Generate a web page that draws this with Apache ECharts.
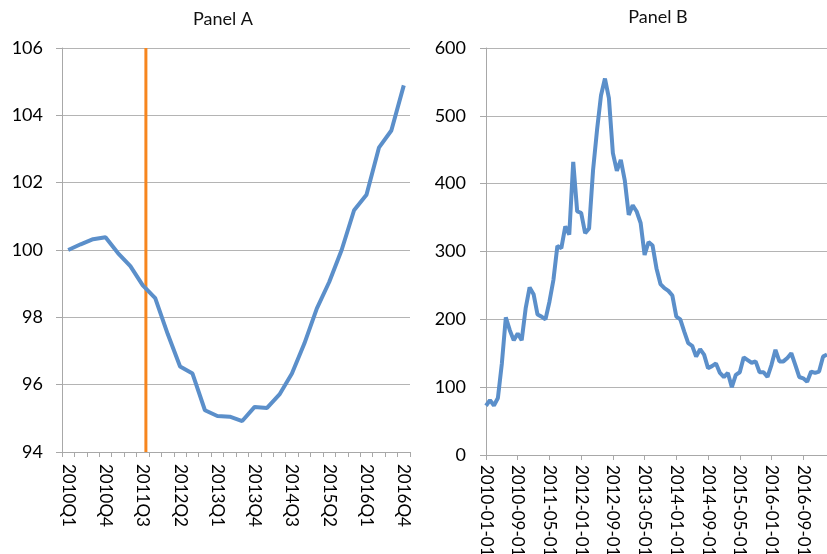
<!DOCTYPE html>
<html>
<head>
<meta charset="utf-8">
<script src="https://cdn.jsdelivr.net/npm/echarts@6/dist/echarts.min.js"></script>
<style>
html,body{margin:0;padding:0;background:#fff;}
#c{width:827px;height:554px;}
</style>
</head>
<body>
<div id="c"></div>
<script>
// ---- Panel A data (quarterly index) ----
var quartersA = ['2010Q1','2010Q2','2010Q3','2010Q4','2011Q1','2011Q2','2011Q3','2011Q4',
  '2012Q1','2012Q2','2012Q3','2012Q4','2013Q1','2013Q2','2013Q3','2013Q4',
  '2014Q1','2014Q2','2014Q3','2014Q4','2015Q1','2015Q2','2015Q3','2015Q4',
  '2016Q1','2016Q2','2016Q3','2016Q4'];
var valuesA = [100.0,100.17,100.32,100.38,99.91,99.52,98.95,98.57,
  97.51,96.54,96.33,95.24,95.07,95.05,94.92,95.34,
  95.31,95.71,96.33,97.22,98.26,99.05,100.0,101.18,
  101.64,103.04,103.55,104.89];
// position of the vertical marker, in category units from the axis start
var markerA = [6.75];
var yTicksA = {min:94, max:106, step:2};

// ---- Panel B data (monthly) ----
var startYearB = 2010, startMonthB = 1;
var valuesB = [72.6,81,73,84,135,203,184,169,179,169,
  216,247,237,207,204,200,226,258,308,305,
  337,325,432,359,357,327,334,420,479,530,
  555,526,445,419,435,405,354,368,359,342,
  295,314,309,275,252,246,242,235,204,200,
  182,165,161,145,156,148,128,131,135,121,
  115,121,100,118,122,144,140,136,138,122,
  122,115,133,155,138,138,143,150,133,115,
  113,108,123,121,123,145,148];
var monthsB = [];
for (var i = 0; i < valuesB.length; i++) {
  var m = startMonthB - 1 + i;
  var y = startYearB + Math.floor(m / 12);
  var mm = (m % 12) + 1;
  monthsB.push(y + '-' + (mm < 10 ? '0' + mm : mm) + '-01');
}
var yTicksB = {min:0, max:600, step:100};

var FONT = 'Lato';
var BLUE = '#5B8FCA';
var GRID = '#B4B4B4';
var AXIS = '#A8A8A8';

var chart = echarts.init(document.getElementById('c'), null, {renderer:'canvas'});
chart.setOption({
  animation:false,
  backgroundColor:'#ffffff',
  title:[
    {text:'Panel A', left:218, top:5, textAlign:'center',
     textStyle:{fontFamily:FONT, fontSize:18, fontWeight:'normal', color:'#111'}},
    {text:'Panel B', left:653, top:3, textAlign:'center',
     textStyle:{fontFamily:FONT, fontSize:18, fontWeight:'normal', color:'#111'}}
  ],
  grid:[
    {left:62, right:417, top:48, bottom:102, containLabel:false, outerBoundsMode:'none'},
    {left:486, right:0, top:48, bottom:99, containLabel:false, outerBoundsMode:'none'}
  ],
  xAxis:[
    {gridIndex:0, type:'category', data:quartersA, boundaryGap:true,
     axisLine:{lineStyle:{color:AXIS, width:1}},
     axisTick:{show:true, interval:0, length:5, lineStyle:{color:AXIS}},
     axisLabel:{interval:2, rotate:-90, margin:12, color:'#000', fontFamily:FONT, fontSize:17},
     splitLine:{show:false}},
    {gridIndex:0, type:'value', min:0, max:quartersA.length, show:false},
    {gridIndex:1, type:'category', data:monthsB, boundaryGap:false,
     axisLine:{lineStyle:{color:AXIS, width:1}},
     axisTick:{show:true, interval:7, length:5, lineStyle:{color:AXIS}},
     axisLabel:{interval:7, rotate:-90, margin:10, color:'#000', fontFamily:FONT, fontSize:17},
     splitLine:{show:false}}
  ],
  yAxis:[
    {gridIndex:0, type:'value', min:yTicksA.min, max:yTicksA.max, interval:yTicksA.step,
     axisLine:{show:true, lineStyle:{color:AXIS}},
     axisTick:{show:true, length:6, lineStyle:{color:AXIS}},
     axisLabel:{margin:19, color:'#000', fontFamily:FONT, fontSize:18},
     splitLine:{show:true, lineStyle:{color:GRID, width:1}}},
    {gridIndex:1, type:'value', min:yTicksB.min, max:yTicksB.max, interval:yTicksB.step,
     axisLine:{show:true, lineStyle:{color:AXIS}},
     axisTick:{show:true, length:6, lineStyle:{color:AXIS}},
     axisLabel:{margin:20, color:'#000', fontFamily:FONT, fontSize:18},
     splitLine:{show:true, lineStyle:{color:GRID, width:1}}}
  ],
  series:[
    {type:'line', xAxisIndex:1, yAxisIndex:0, silent:true, symbol:'none', z:3,
     lineStyle:{color:'#F7861E', width:3},
     data:[[markerA[0], yTicksA.min], [markerA[0], yTicksA.max]]},
    {type:'line', xAxisIndex:0, yAxisIndex:0, data:valuesA, symbol:'none', z:4,
     lineStyle:{color:BLUE, width:4}},
    {type:'line', xAxisIndex:2, yAxisIndex:1, data:valuesB, symbol:'none', z:4,
     lineStyle:{color:BLUE, width:4}}
  ]
});
</script>
</body>
</html>
